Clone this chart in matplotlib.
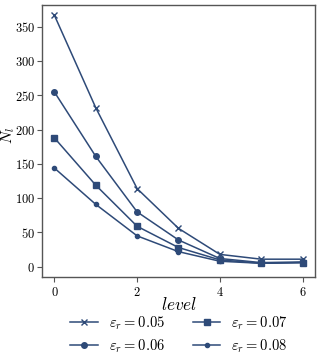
import matplotlib
matplotlib.use("Agg")
import matplotlib.pyplot as plt
from matplotlib.ticker import FuncFormatter

levels = [0, 1, 2, 3, 4, 5, 6]
n_005 = [367, 232, 114, 56, 18, 11, 11]
n_006 = [255, 161, 80, 39, 12, 6, 7]
n_007 = [188, 119, 59, 28, 10, 5, 6]
n_008 = [144, 91, 45, 22, 8, 5, 6]
labels = [r"$\varepsilon_r = 0.05$", r"$\varepsilon_r = 0.06$",
          r"$\varepsilon_r = 0.07$", r"$\varepsilon_r = 0.08$"]

plt.rcParams['mathtext.fontset'] = 'cm'
plt.rcParams['font.family'] = 'serif'
plt.rcParams['font.serif'] = ['cmr10', 'DejaVu Serif']
plt.rcParams['axes.unicode_minus'] = False

color = '#2e4a78'
W, H = 333, 357
fig = plt.figure(figsize=(W / 100, H / 100), dpi=100)
ax = fig.add_axes([42 / W, 1 - 277 / H, 273 / W, 272 / H])

ax.plot(levels, n_005, marker='x', ms=4, mew=1, lw=1.1, color=color, label=labels[0])
ax.plot(levels, n_006, marker='o', ms=4, lw=1.1, color=color, label=labels[1])
ax.plot(levels, n_007, marker='s', ms=4, lw=1.1, color=color, label=labels[2])
ax.plot(levels, n_008, marker='o', ms=3, lw=1.1, color=color, label=labels[3])

ax.set_xlim(-0.3, 6.3)
ax.set_ylim(-15, 382)
ax.set_xticks([0, 2, 4, 6])
ax.set_yticks([0, 50, 100, 150, 200, 250, 300, 350])
fmt = FuncFormatter(lambda v, p: f"${v:g}$")
ax.xaxis.set_major_formatter(fmt)
ax.yaxis.set_major_formatter(fmt)
ax.tick_params(labelsize=9, color='#555555', length=3.5, width=0.8, pad=1.5)
ax.tick_params(axis='x', pad=3)
for s in ax.spines.values():
    s.set_color('#555555')
    s.set_linewidth(1.0)

fig.text(179 / W, 1 - 305 / H, r"$level$", fontsize=12.5, ha='center', va='center')
fig.text(8 / W, 1 - 135 / H, r"$N_l$", fontsize=11, ha='center', va='center', rotation=90)

handles, labs = ax.get_legend_handles_labels()
fig.legend(handles, labs, loc='center', bbox_to_anchor=(179 / W, 1 - 334.5 / H), ncol=2,
           frameon=False, fontsize=10.5, handlelength=1.9, columnspacing=1.9,
           labelspacing=0.35, handletextpad=0.75)

fig.savefig("out.png", dpi=100)
